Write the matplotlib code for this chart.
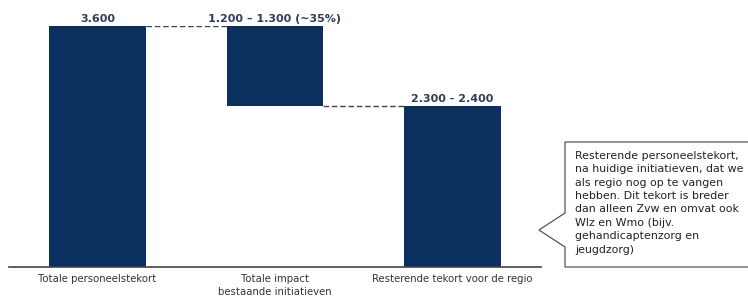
import matplotlib.pyplot as plt
from matplotlib.patches import Polygon

# data
categories = ["Totale personeelstekort", "Totale impact\nbestaande initiatieven", "Resterende tekort voor de regio"]
totaal = 3600
impact = 1200
rest = totaal - impact
value_labels = ["3.600", "1.200 \u2013 1.300 (~35%)", "2.300 - 2.400"]
note = ("Resterende personeelstekort,\nna huidige initiatieven, dat we\nals regio nog op te vangen\n"
        "hebben. Dit tekort is breder\ndan alleen Zvw en omvat ook\nWlz en Wmo (bijv.\n"
        "gehandicaptenzorg en\njeugdzorg)")

W, H = 748, 300
navy = "#0b2f5f"
txt = "#2e3d57"

fig = plt.figure(figsize=(W / 100, H / 100), dpi=100)
ax = fig.add_axes([8.75 / W, 33 / H, 532.5 / W, 241 / H])

bottoms = [0, rest, 0]
heights = [totaal, impact, rest]
x = [0, 1, 2]
ax.bar(x, heights, bottom=bottoms, width=0.546, color=navy)

for i in range(3):
    top = bottoms[i] + heights[i]
    ax.text(x[i], top + 30, value_labels[i], ha="center", va="bottom",
            fontsize=8, fontweight="bold", color=txt, clip_on=False)

# dashed connectors
hw = 0.546 / 2
ax.plot([0 + hw, 1 - hw], [totaal, totaal], ls=(0, (4, 2)), color="#444444", lw=1)
ax.plot([1 + hw, 2 - hw], [rest, rest], ls=(0, (4, 2)), color="#444444", lw=1)

ax.set_xlim(-0.5, 2.5)
ax.set_ylim(0, totaal)
ax.set_xticks(x)
ax.set_xticklabels(categories, fontsize=7.3, color="#333333", linespacing=1.4)
ax.tick_params(axis="x", length=0, pad=5)
ax.set_yticks([])
for s in ["top", "right", "left"]:
    ax.spines[s].set_visible(False)
ax.spines["bottom"].set_color("#444444")
ax.spines["bottom"].set_linewidth(1.2)

# callout box with pointer
def fp(px, py):
    return (px / W, 1 - py / H)

pts = [fp(565, 142), fp(760, 142), fp(760, 267), fp(565, 267), fp(565, 247),
       fp(539, 230), fp(565, 213)]
fig.patches.append(Polygon(pts, closed=True, transform=fig.transFigure,
                           facecolor="white", edgecolor="#555555", lw=0.9))
fig.text(575 / W, 1 - 151 / H, note, ha="left", va="top", fontsize=7.9,
         color="#222222", linespacing=1.42)

fig.savefig("out.png", dpi=100)
